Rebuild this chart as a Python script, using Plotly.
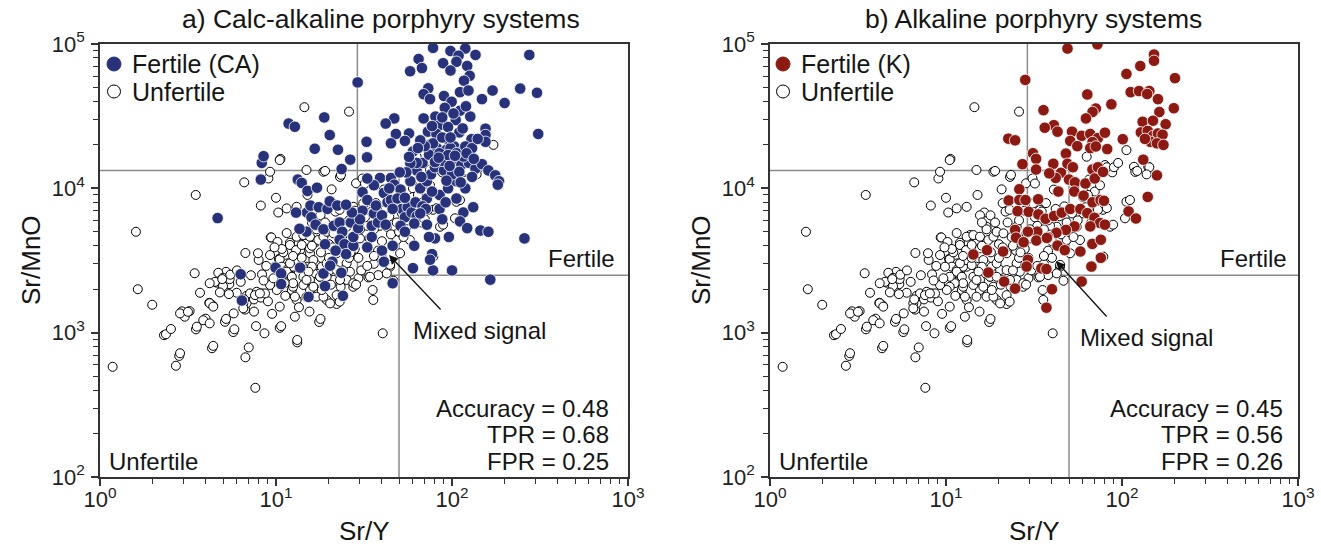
import plotly.graph_objects as go

# ---------------- data ----------------
unf_x = [1.18, 1.6, 1.64, 1.98, 2.31, 2.37, 2.53, 2.70, 2.82, 2.92,
         3.03, 3.23, 3.45, 3.5, 3.51, 3.70, 3.98, 4.18, 4.33, 4.36,
         4.6, 4.89, 5.2, 5.43, 5.72, 5.75, 5.98, 6.7, 6.7, 6.67,
         6.81, 7.12, 7.63, 7.77, 7.97, 8.33, 8.3, 9.33, 10.4, 10.5,
         10.5, 12.8, 13.2, 17.6, 40.4, 6.6, 8.2, 9.05, 10.0, 10.3,
         10.6, 14.5, 26.0, 15.1, 11.6, 11.9, 12.3, 14.3, 15.6, 19.4,
         22.1, 23.3, 27.5, 29.4, 35.4, 35.7, 33.5, 38.1, 26.3, 25.2,
         20.3, 17.8, 14.9, 13.1, 17.0, 18.6, 13.1, 14.9, 17.0, 22.1,
         25.2, 12.0, 9.25, 10.5, 10.8, 11.5, 12.0, 12.5, 13.1, 13.7,
         14.9, 12.8, 13.7, 17.0, 15.6, 16.3, 14.9, 16.3, 15.6, 14.3,
         12.5, 12.8, 18.6, 13.1, 11.5, 14.9, 18.6, 9.25, 10.5, 17.0,
         19.4, 22.1, 21.2, 20.3, 22.1, 9.4, 10.2, 11.5, 12.0, 7.9,
         4.7, 5.0, 4.5, 4.2, 5.0, 4.8, 5.4, 6.8, 7.5, 8.2,
         9.0, 19.0, 23.1, 20.7, 28.5, 31.3, 27.5, 34.2, 25.2, 28.7,
         42.6, 48.5, 44.4, 50.7, 34.2, 42.6, 63.0, 78.3, 27.5, 23.1,
         57.7, 55.2, 68.7, 60.3, 106, 117, 119, 141, 75, 80,
         85, 88, 82, 106, 104, 85.5, 78, 82, 60, 65,
         70, 75, 60, 172, 143, 138, 122, 12.0, 13.1, 14.3,
         15.6, 13.0, 14.0, 15.6, 17.4, 18.6, 19.4, 21.2, 14.0, 16.0,
         18.2, 19.4, 15.3, 17.8, 19.4, 14.9, 16.3, 18.2, 12.0, 11.5,
         12.3, 12.5, 11.2, 10.5, 10.5, 10.1, 9.25, 8.66, 7.6, 6.52,
         6.52, 9.87, 9.66, 5.13, 4.2, 4.4, 3.86, 4.2, 2.85, 3.16,
         8.1, 16.5, 17.9, 19.0, 21.0, 21.8, 23.0, 22.4, 23.6, 25.0,
         26.4, 27.8, 28.5, 29.4, 31.0, 32.0, 33.0, 35.0, 37.0, 38.0,
         39.0, 41.0, 42.0, 44.5, 46.5, 48.5, 52.0, 67.0, 73.0, 89.0,
         111, 20.0, 15.6, 16.0, 17.0, 23.0, 23.4, 17.9, 13.2, 10.7,
         8.6, 7.7, 6.6, 7.0, 5.8, 5.45, 5.5, 5.2, 4.95, 4.4,
         3.55, 2.85, 90, 95, 30, 36, 40, 45, 26, 28,
         11.0, 12.5, 14.0, 16.0, 18.0, 20.0, 21.0, 24.0, 26.0, 28.0,
         30.0, 32.0, 34.0, 36.0, 38.0, 40.0, 44.0, 47.0, 50.0, 53.0,
         56.0, 62.0, 64.0, 70.0, 10.8, 9.8, 8.8, 7.2, 6.3, 6.0,
         11.3, 13.5, 15.5, 20.5, 24.0, 26.5, 30.5, 33.0, 36.0, 9.5,
         7.5, 8.5]
unf_y = [580, 5000, 2000, 1560, 960, 975, 1060, 590, 690, 1405,
         1290, 1410, 2580, 9000, 1055, 1890, 1250, 1610, 780, 1545,
         2220, 2290, 2640, 2170, 1010, 1360, 1890, 3565, 675, 1445,
         1800, 1870, 415, 1920, 3190, 2535, 1870, 4570, 3240, 1515,
         1080, 1290, 857, 1185, 990, 11000, 7600, 11700, 8600, 6800,
         16000, 36500, 34000, 9000, 3020, 2320, 1975, 2440, 1975, 1685,
         1580, 2080, 2080, 2380, 1975, 1685, 2415, 2505, 2645, 3020,
         2715, 2440, 3185, 2865, 2940, 2080, 1685, 1775, 1775, 1820,
         2320, 2645, 3450, 3220, 2865, 2715, 2505, 2865, 3185, 3730,
         4160, 4270, 4745, 4270, 3550, 3185, 2865, 2575, 2320, 2140,
         2080, 1775, 1775, 7450, 7260, 13400, 13030, 13030, 15700, 5420,
         5000, 2715, 2320, 1595, 3550, 4570, 4250, 4900, 4200, 3550,
         2600, 2400, 2250, 2200, 2100, 1900, 1850, 1600, 1700, 1750,
         1650, 13200, 12000, 9840, 10840, 7870, 7450, 7080, 5420, 4880,
         5420, 4385, 2865, 3550, 2440, 2575, 16560, 3360, 2200, 2320,
         4385, 5420, 6710, 6710, 18400, 14100, 13000, 14100, 13500, 14500,
         13600, 12900, 14000, 8070, 6200, 5420, 7100, 7300, 10000, 11500,
         9500, 10500, 8700, 20000, 14000, 12500, 13200, 4050, 4620, 4745,
         4620, 3730, 4050, 3840, 4385, 4620, 5000, 4880, 2940, 2865,
         2865, 3020, 2645, 2440, 2440, 2320, 2080, 1975, 3020, 2645,
         2440, 2200, 2200, 2440, 2080, 1975, 2140, 1870, 1820, 1595,
         1475, 2865, 2380, 1190, 1600, 1515, 1220, 1160, 1360, 1395,
         1870, 6800, 6500, 5800, 7900, 6900, 7100, 5800, 4600, 3700,
         4400, 4100, 2150, 3300, 11700, 10800, 5500, 6900, 7900, 3700,
         5500, 9800, 7200, 2950, 2290, 5800, 6700, 5800, 7100, 5600,
         8300, 4100, 6500, 5800, 5200, 1640, 12400, 1245, 890, 1110,
         990, 1110, 1700, 790, 1055, 2350, 2520, 1245, 2350, 810,
         1100, 720, 14000, 15000, 4500, 3000, 3300, 4800, 6000, 7000,
         3600, 3400, 3300, 4000, 3600, 3300, 3900, 4000, 3300, 3800,
         5200, 6300, 4500, 5200, 6000, 4300, 6400, 7500, 5000, 4600,
         6000, 7400, 9000, 6100, 3800, 3900, 2900, 2500, 2250, 2700,
         1800, 1500, 1400, 2150, 2700, 3600, 2700, 2900, 3400, 1350,
         1400, 2300]

ca_x = [78, 98, 119, 109, 136, 275, 64.6, 89, 106, 122,
        67.5, 57.8, 98, 126, 117, 29.1, 244, 304, 73.3, 90,
        111, 124, 170, 69, 75, 148, 199, 99.5, 91, 111,
        105, 127, 69, 80.5, 85, 95, 73, 81.5, 110, 155,
        155, 309, 18.8, 11.8, 12.8, 47, 42, 20.2, 48, 57,
        32.7, 45, 54, 129, 155, 97, 74, 82, 93, 103,
        114, 16.6, 22.5, 26.4, 32.9, 8.3, 8.5, 8.2, 13.3, 14,
        15.1, 17.1, 23.6, 4.66, 6.3, 6.4, 9.95, 10.7, 10.7, 13.7,
        15.3, 14.9, 13.6, 15, 13, 15.7, 17.5, 15.9, 16.8, 18.6,
        21.3, 19.6, 20.2, 22.3, 23, 23.8, 26.6, 23, 24.5, 27.5,
        27.5, 25, 21.8, 19, 18.6, 19, 20.9, 23.5, 24, 29.3,
        31, 31, 33, 36, 35, 35, 33, 38, 40, 41,
        40, 41, 46, 46, 43, 45, 39, 45, 47, 51,
        49, 52, 56, 54, 51, 59, 63, 61, 54, 61,
        72, 60, 78, 100, 77, 75, 80, 74, 85, 96,
        116, 111, 122, 145, 161, 165, 258, 132, 106, 85,
        72, 66, 95, 106, 119, 72, 58, 63, 76, 80,
        90, 88, 101, 113, 125, 116, 136, 148, 161, 176,
        185, 182, 68, 63, 58, 55, 50.5, 74, 85, 98,
        106, 119, 78, 70, 88, 98, 80, 20.3, 62, 68,
        92, 100, 110, 95, 130, 67, 115, 140,
        60, 66, 77, 102, 120, 88, 57, 64, 84, 97,
        104, 121, 133, 130, 112, 93, 77, 71, 88, 66,
        54, 46, 37, 42, 30, 27, 25, 36, 44, 33]
ca_y = [94000, 89500, 93000, 83000, 84000, 84000, 78700, 73600, 75300, 70400,
        68100, 64700, 65500, 60200, 55700, 54200, 49100, 45900, 49300, 43600,
        46400, 47600, 47600, 44900, 41500, 41500, 39000, 39800, 36100, 34500,
        29700, 31400, 30500, 31400, 27400, 26600, 24700, 23800, 24400, 25900,
        23400, 23800, 31000, 28100, 26700, 30500, 28100, 23400, 23800, 24000,
        21000, 20500, 21300, 21900, 21000, 20800, 20000, 19000, 18500, 19500,
        18000, 18800, 18500, 15800, 16400, 15000, 16700, 11500, 11500, 10900,
        9600, 10100, 13600, 6220, 2540, 1670, 2820, 2570, 2170, 2820,
        1770, 5010, 5240, 6800, 6790, 7590, 7400, 6300, 5600, 5200,
        5500, 7200, 8130, 7600, 5800, 5000, 5800, 4400, 4100, 4000,
        4600, 3500, 3700, 4100, 2570, 2100, 3100, 2600, 1800, 5300,
        7000, 9400, 8300, 6700, 5500, 4600, 3900, 5800, 6500, 9300,
        3700, 3100, 4000, 2200, 8000, 8300, 11800, 11800, 10600, 9800,
        8500, 7200, 7400, 6300, 5500, 6800, 6400, 5700, 5000, 4000,
        5600, 2800, 2700, 2700, 3500, 3200, 4500, 4600, 7200, 4600,
        6800, 5900, 5300, 5100, 5000, 2330, 4500, 7400, 8500, 9000,
        8500, 10000, 10000, 11200, 10000, 11200, 11200, 13300, 12500, 14000,
        13300, 15500, 15800, 14500, 15000, 16600, 13700, 14700, 13300, 12300,
        11200, 10600, 15000, 15000, 14900, 12900, 12900, 17100, 17500, 19000,
        17500, 19500, 20500, 19600, 22500, 22500, 15200, 2910, 8000, 7500,
        8000, 12500, 13000, 17000, 19000, 12000, 26000, 22000,
        18000, 21500, 27000, 33000, 37000, 31000, 16500, 19000, 16300, 14300,
        16800, 17500, 16000, 12000, 11000, 11300, 9500, 7200, 6100, 6700,
        8600, 7200, 7600, 5600, 6100, 6800, 7700, 10500, 10000, 11700]

k_x = [49, 72.5, 152, 152, 127, 106, 200, 28.2, 63.5, 112,
       125, 143, 139, 160, 87, 197, 35.8, 71, 68, 62.4,
       163, 131, 150, 177, 41, 36.4, 43, 52, 59, 66,
       73, 80, 128, 140, 150, 160, 170, 145, 158, 172,
       135, 101, 22.6, 24.7, 50.8, 55.7, 68, 66, 71, 82.4,
       48, 31.2, 32.5, 132, 27.2, 40.7, 49, 52.6, 32.5, 45,
       42, 38.6, 50, 54, 62, 68, 70, 73, 78, 158,
       26.1, 22.7, 26.1, 28.3, 33.4, 43.5, 53.5, 60.5, 68, 75.5,
       79, 140, 109, 120, 25.5, 29.5, 33.5, 36.8, 41.1, 45.5,
       50.8, 58, 63.5, 69.7, 75, 80, 66, 53.7, 48, 42.4,
       37.9, 33, 29.2, 24.7, 25, 27.6, 32.6, 37.4, 43, 47.3,
       58, 67.8, 75.8, 14.3, 17.1, 21.1, 17.4, 21.4, 24.7, 29.2,
       28.7, 34.8, 37.2, 40, 37.2, 59, 67, 75.8]
k_y = [93000, 99500, 84500, 76500, 70400, 62000, 58000, 56400, 44700, 46400,
       47200, 47200, 45000, 41500, 38200, 35900, 34800, 35700, 33800, 30500,
       33800, 28900, 29400, 27800, 27400, 26300, 24700, 24700, 23100, 23800,
       22300, 24300, 24400, 25000, 23000, 24000, 23500, 21000, 20500, 20000,
       22000, 21900, 22100, 21500, 21300, 19600, 20900, 19000, 19500, 18700,
       17400, 17500, 16000, 15800, 14700, 14800, 14800, 14000, 13500, 12800,
       11800, 12700, 11500, 11000, 10800, 13500, 11700, 14000, 13000, 12300,
       9860, 8250, 8300, 8300, 8400, 9500, 9500, 8900, 8000, 8300,
       8200, 8720, 6920, 6180, 6950, 6870, 6600, 6150, 6430, 6790,
       7190, 7190, 6730, 6250, 5750, 5600, 5450, 5450, 5150, 4920,
       4600, 5010, 5010, 5150, 4550, 4230, 4350, 4530, 4010, 3730,
       3650, 4120, 4400, 3480, 3730, 3650, 2610, 2260, 2020, 3200,
       2870, 2790, 2760, 2000, 1490, 2260, 2870, 3300]

# thresholds of the classification boxes
sry_low, sry_high = 29, 50
srmno_low, srmno_high = 2500, 13300

panel_titles = ["a) Calc-alkaline porphyry systems", "b) Alkaline porphyry systems"]
legend_a = ["Fertile (CA)", "Unfertile"]
legend_b = ["Fertile (K)", "Unfertile"]
stats_a = ["Accuracy = 0.48", "TPR = 0.68", "FPR = 0.25"]
stats_b = ["Accuracy = 0.45", "TPR = 0.56", "FPR = 0.26"]
x_ticks = [1, 10, 100, 1000]
x_ticktext = ["10<sup>0</sup>", "10<sup>1</sup>", "10<sup>2</sup>", "10<sup>3</sup>"]
y_ticks = [100, 1000, 10000, 100000]
y_ticktext = ["10<sup>2</sup>", "10<sup>3</sup>", "10<sup>4</sup>", "10<sup>5</sup>"]

# ---------------- figure ----------------
W, H = 1321, 551
FONT = "Arial, Liberation Sans, sans-serif"
BLUE = "#27327a"
RED = "#8c1a12"
TXT = "#151515"

fig = go.Figure()

unf_marker = dict(size=9, color="white", line=dict(color="black", width=1))
fert_line = dict(color="white", width=0.8)

fig.add_trace(go.Scatter(x=unf_x, y=unf_y, mode="markers", name="Unfertile",
                         marker=unf_marker, xaxis="x", yaxis="y", showlegend=False))
fig.add_trace(go.Scatter(x=ca_x, y=ca_y, mode="markers", name="Fertile (CA)",
                         marker=dict(size=11.5, color=BLUE, line=fert_line),
                         xaxis="x", yaxis="y", showlegend=False))
fig.add_trace(go.Scatter(x=unf_x, y=unf_y, mode="markers", name="Unfertile",
                         marker=unf_marker, xaxis="x2", yaxis="y2", showlegend=False))
fig.add_trace(go.Scatter(x=k_x, y=k_y, mode="markers", name="Fertile (K)",
                         marker=dict(size=11.5, color=RED, line=fert_line),
                         xaxis="x2", yaxis="y2", showlegend=False))

dom_a = [100 / W, 628 / W]
dom_b = [770 / W, 1298 / W]
dom_y = [1 - 477 / H, 1 - 44 / H]

minor_vals_x = [m * 10 ** e for e in range(0, 3) for m in range(2, 10)]
minor_vals_y = [m * 10 ** e for e in range(2, 5) for m in range(2, 10)]

axis_common = dict(type="log", showgrid=False, zeroline=False, showline=True,
                   linecolor="#333", linewidth=1.5, mirror=True, automargin=False,
                   ticks="outside", ticklen=7, tickwidth=1.5, tickcolor="#333",
                   tickfont=dict(family=FONT, size=22, color="#222"),
                   tickmode="array")

xa = dict(axis_common, range=[0, 3], tickvals=x_ticks, ticktext=x_ticktext,
          ticklabelstandoff=-5,
          minor=dict(tickmode="array", tickvals=minor_vals_x, ticks="outside",
                     ticklen=5, tickwidth=1.2, tickcolor="#333", showgrid=False))
ya = dict(axis_common, range=[2, 5], tickvals=y_ticks, ticktext=y_ticktext,
          ticklabelstandoff=2,
          minor=dict(tickmode="array", tickvals=minor_vals_y, ticks="outside",
                     ticklen=5, tickwidth=1.2, tickcolor="#333", showgrid=False))

fig.update_layout(
    template="none",
    width=W, height=H, margin=dict(l=0, r=0, t=0, b=0, autoexpand=False),
    paper_bgcolor="white", plot_bgcolor="white",
    font=dict(family=FONT, color="#222"),
    xaxis=dict(xa, domain=dom_a, anchor="y"),
    yaxis=dict(ya, domain=dom_y, anchor="x"),
    xaxis2=dict(xa, domain=dom_b, anchor="y2"),
    yaxis2=dict(ya, domain=dom_y, anchor="x2"),
    showlegend=False,
)

# threshold lines
line_style = dict(color="#8a8a8a", width=1.5)
for xr, yr in (("x", "y"), ("x2", "y2")):
    fig.add_shape(type="line", xref=xr, yref=yr, x0=1, x1=sry_high, y0=srmno_high, y1=srmno_high, line=line_style, layer="below")
    fig.add_shape(type="line", xref=xr, yref=yr, x0=sry_low, x1=sry_low, y0=srmno_low, y1=100000, line=line_style, layer="below")
    fig.add_shape(type="line", xref=xr, yref=yr, x0=sry_low, x1=1000, y0=srmno_low, y1=srmno_low, line=line_style, layer="below")
    fig.add_shape(type="line", xref=xr, yref=yr, x0=sry_high, x1=sry_high, y0=100, y1=srmno_high, line=line_style, layer="below")


def pannot(text, px, py, xanchor="center", yanchor="middle", size=24, angle=0):
    fig.add_annotation(text=text, x=px / W, y=1 - py / H, xref="paper", yref="paper",
                       xanchor=xanchor, yanchor=yanchor, showarrow=False, textangle=angle,
                       font=dict(family=FONT, size=size, color=TXT))

# titles
pannot(panel_titles[0], 381, 19, size=26.5)
pannot(panel_titles[1], 1033, 19, size=26.5)

# axis titles
for cx in (364, 1034):
    pannot("Sr/Y", cx, 531, size=26)
for cx in (31, 701):
    pannot("Sr/MnO", cx, 260, size=26, angle=-90)

# manual legends (key circles + labels)
for off, labels, col in ((0, legend_a, BLUE), (669, legend_b, RED)):
    for i, lab in enumerate(labels):
        cy = 64 + 27.5 * i
        cx = 114 + off
        if i == 0:
            fig.add_shape(type="circle", xref="paper", yref="paper",
                          x0=(cx - 7) / W, x1=(cx + 7) / W, y0=1 - (cy + 7) / H, y1=1 - (cy - 7) / H,
                          fillcolor=col, line=dict(color=col, width=1))
        else:
            fig.add_shape(type="circle", xref="paper", yref="paper",
                          x0=(cx - 6.5) / W, x1=(cx + 6.5) / W, y0=1 - (cy + 6.5) / H, y1=1 - (cy - 6.5) / H,
                          fillcolor="white", line=dict(color="black", width=1))
        pannot(lab, cx + 16, cy, xanchor="left", size=25)

# region labels and stats
for off, stats, fr in ((0, stats_a, 617), (670, stats_b, 1289)):
    pannot("Fertile", fr, 258, xanchor="right")
    pannot("Unfertile", 107 + off, 461, xanchor="left")
    for i, s in enumerate(stats):
        pannot(s, 611 + off + (4 if off else 0), 408 + 26.5 * i, xanchor="right")

pannot("Mixed signal", 479, 330)
pannot("Mixed signal", 1146, 337)

# arrows
for hx, hy, tx, ty in ((389, 255, 442, 311), (1056, 261, 1108, 318)):
    fig.add_annotation(x=hx / W, y=1 - hy / H, xref="paper", yref="paper",
                       ax=tx - hx, ay=ty - hy, axref="pixel", ayref="pixel",
                       showarrow=True, arrowhead=2, arrowsize=1.4, arrowwidth=1.3,
                       arrowcolor="#111", text="")

fig.write_html("out.html")
